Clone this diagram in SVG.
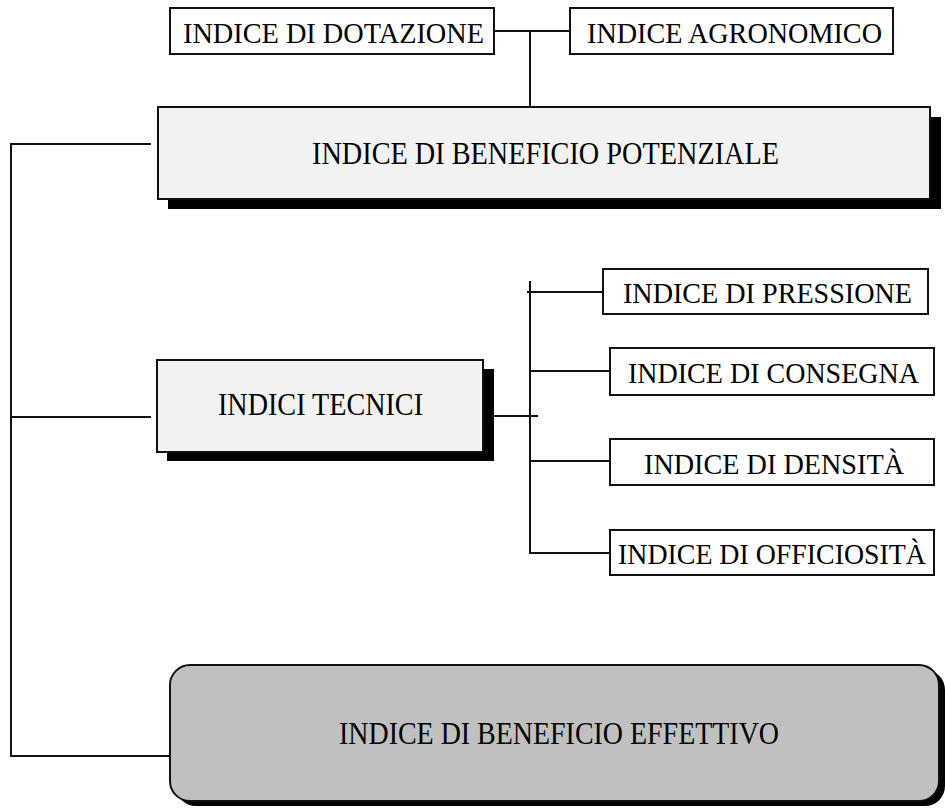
<svg xmlns="http://www.w3.org/2000/svg" width="945" height="808" viewBox="0 0 945 808">
<style>
.box{fill:#ffffff;stroke:#111;stroke-width:2}
.lite{fill:#f2f2f2;stroke:#111;stroke-width:2}
.dark{fill:#c0c0c0;stroke:#111;stroke-width:2}
.sh{fill:#000}
.t{font-family:"Liberation Serif","Times New Roman",serif;fill:#000;font-size:30px}
.tb{font-family:"Liberation Serif","Times New Roman",serif;fill:#000;font-size:31px}
.ln{stroke:#111;stroke-width:2;fill:none}
</style>
<rect width="945" height="808" fill="#fff"/>
<g id="connectors">
<path class="ln" d="M494 31H570M530 31V113"/>
<path class="ln" d="M151 144H11V756H170M11 417H151"/>
<path class="ln" d="M494 416H538M530 281V553H610M527 292H603M530 371H610M530 461H610"/>
</g>
<g id="dotazione">
<rect class="box" x="170" y="8" width="324" height="46"/>
<text class="t" x="183" y="43" textLength="301" lengthAdjust="spacingAndGlyphs">INDICE DI DOTAZIONE</text>
</g>
<g id="agronomico">
<rect class="box" x="570" y="8" width="323" height="46"/>
<text class="t" x="587" y="43" textLength="295" lengthAdjust="spacingAndGlyphs">INDICE AGRONOMICO</text>
</g>
<g id="potenziale">
<rect class="sh" x="168" y="117" width="773" height="92"/>
<rect class="lite" x="158" y="107" width="772" height="92"/>
<text class="tb" x="312" y="164" textLength="467" lengthAdjust="spacingAndGlyphs">INDICE DI BENEFICIO POTENZIALE</text>
</g>
<g id="tecnici">
<rect class="sh" x="167" y="369" width="327" height="92"/>
<rect class="lite" x="157" y="360" width="326" height="92"/>
<text class="tb" x="218" y="415" textLength="205" lengthAdjust="spacingAndGlyphs">INDICI TECNICI</text>
</g>
<g id="pressione">
<rect class="box" x="603" y="269" width="325" height="45"/>
<text class="t" x="623" y="303" textLength="289" lengthAdjust="spacingAndGlyphs">INDICE DI PRESSIONE</text>
</g>
<g id="consegna">
<rect class="box" x="610" y="348" width="324" height="47"/>
<text class="t" x="628" y="383" textLength="291" lengthAdjust="spacingAndGlyphs">INDICE DI CONSEGNA</text>
</g>
<g id="densita">
<rect class="box" x="610" y="439" width="324" height="46"/>
<text class="t" x="644" y="474" textLength="260" lengthAdjust="spacingAndGlyphs">INDICE DI DENSITÀ</text>
</g>
<g id="officiosita">
<rect class="box" x="610" y="530" width="324" height="45"/>
<text class="t" x="618" y="564" textLength="308" lengthAdjust="spacingAndGlyphs" style="font-size:29px">INDICE DI OFFICIOSITÀ</text>
</g>
<g id="effettivo">
<rect class="sh" x="176" y="670" width="769" height="136" rx="20"/>
<rect class="dark" x="170" y="665" width="769" height="136" rx="20"/>
<text class="tb" x="339" y="744" textLength="440" lengthAdjust="spacingAndGlyphs">INDICE DI BENEFICIO EFFETTIVO</text>
</g>
</svg>
